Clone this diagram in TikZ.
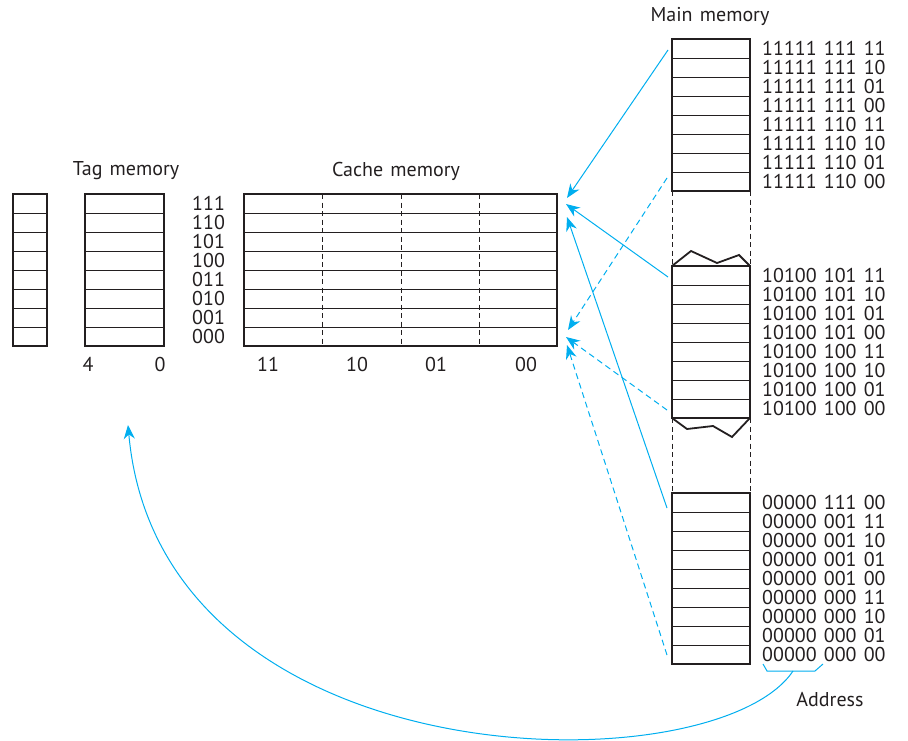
\documentclass[tikz,border=0pt]{standalone}
\usepackage{fontspec}
\setmainfont{PT Sans}
\usetikzlibrary{arrows.meta,calc}
\definecolor{linkblue}{HTML}{00AEEF}
\definecolor{ink}{HTML}{231F20}
\newcommand\lblfont{\fontsize{20}{20}\selectfont\setlength{\spaceskip}{0.36em}}

\tikzset{
  block/.style={draw=ink, line width=1.8pt, inner sep=0pt, outer sep=0pt, anchor=north west},
  rowline/.style={draw=ink, line width=0.9pt},
  guide/.style={draw=ink, line width=0.8pt, dash pattern=on 5pt off 3.5pt},
  lbl/.style={inner sep=0pt, text=ink, font=\lblfont},
  link/.style={draw=linkblue, line width=1pt, -{Stealth[length=14pt, width=11pt]}},
  dlink/.style={link, dash pattern=on 6pt off 4pt}
}

\begin{document}
\begin{tikzpicture}[x=1pt, y=-1pt]
\useasboundingbox (0,0) rectangle (908,741);

% left side: valid bits, tags and cache lines
\node[block, minimum width=34pt, minimum height=152pt] (valid) at (13,194) {};
\node[block, minimum width=79pt, minimum height=152pt] (tag) at (85,194) {};
\node[block, minimum width=313pt, minimum height=152pt] (cache) at (244,194) {};
\foreach \k in {1,...,7} {
  \draw[rowline] ($(valid.north west)+(0,\k*19)$) -- ($(valid.north east)+(0,\k*19)$);
  \draw[rowline] ($(tag.north west)+(0,\k*19)$) -- ($(tag.north east)+(0,\k*19)$);
  \draw[rowline] ($(cache.north west)+(0,\k*19)$) -- ($(cache.north east)+(0,\k*19)$);
}
\foreach \x in {78,157,235}
  \draw[guide] ($(cache.north west)+(\x,0)$) -- ($(cache.south west)+(\x,0)$);

\node[lbl] (tagtitle) at (126,171) {Tag memory};
\node[lbl] (cachetitle) at (396,171) {Cache memory};
\foreach \t [count=\i] in {111,110,101,100,011,010,001,000}
  \node[lbl, anchor=west] (set\i) at (192,184.5+19*\i) {\t};
\node[lbl] (bitfour) at (88,364) {4};
\node[lbl] (bitzero) at (160,364) {0};
\foreach \t/\x [count=\i] in {11/268,10/357,01/436,00/526}
  \node[lbl] (word\i) at (\x,364) {\t};

% main memory
\node[lbl] (maintitle) at (710,16) {Main memory};
\node[block, minimum width=78pt, minimum height=152pt] (mmtop) at (672,39) {};
\node[block, minimum width=78pt, minimum height=152pt] (mmmid) at (672,266) {};
\node[block, minimum width=78pt, minimum height=171pt] (mmbot) at (672,493) {};
\foreach \k in {1,...,7} {
  \draw[rowline] ($(mmtop.north west)+(0,\k*19)$) -- ($(mmtop.north east)+(0,\k*19)$);
  \draw[rowline] ($(mmmid.north west)+(0,\k*19)$) -- ($(mmmid.north east)+(0,\k*19)$);
}
\foreach \k in {1,...,8}
  \draw[rowline] ($(mmbot.north west)+(0,\k*19)$) -- ($(mmbot.north east)+(0,\k*19)$);
\draw[guide] (mmtop.south west) -- (mmmid.north west);
\draw[guide] (mmtop.south east) -- (mmmid.north east);
\draw[guide] (mmmid.south west) -- (mmbot.north west);
\draw[guide] (mmmid.south east) -- (mmbot.north east);
% torn edges
\draw[draw=ink, line width=1.8pt, line join=miter]
  (mmmid.north west) -- (691,251) -- (717,263) -- (739,255) -- (mmmid.north east);
\draw[draw=ink, line width=1.8pt, line join=miter]
  (mmmid.south west) -- (687,429) -- (713,426) -- (732,437) -- (mmmid.south east);

\foreach \t [count=\i] in {11111 111 11,11111 111 10,11111 111 01,11111 111 00,
    11111 110 11,11111 110 10,11111 110 01,11111 110 00}
  \node[lbl, anchor=west] (hi\i) at (762,29.5+19*\i) {\t};
\foreach \t [count=\i] in {10100 101 11,10100 101 10,10100 101 01,10100 101 00,
    10100 100 11,10100 100 10,10100 100 01,10100 100 00}
  \node[lbl, anchor=west] (mid\i) at (762,256.5+19*\i) {\t};
\foreach \t [count=\i] in {00000 111 00,00000 001 11,00000 001 10,00000 001 01,
    00000 001 00,00000 000 11,00000 000 10,00000 000 01,00000 000 00}
  \node[lbl, anchor=west] (lo\i) at (762,483.5+19*\i) {\t};

% address fields
\coordinate (addr) at (793,671);
\draw[draw=linkblue, line width=1pt] (763,664) -- (767,671) -- (815,671) -- (823,664);
\node[lbl] (addrlabel) at (830,700) {Address};

% mapping arrows
\coordinate (fromtop) at (668,50);
\coordinate (frommid) at (668,277);
\coordinate (frombot) at (667,508);
\coordinate (fromtopend) at (667,178);
\coordinate (frommidend) at (667,410);
\coordinate (frombotend) at (667,655);
\coordinate (hitA) at (567,198);
\coordinate (hitB) at (566,204);
\coordinate (hitC) at (567,217);
\coordinate (hitD) at (568,330);
\coordinate (hitE) at (566,337);
\coordinate (hitF) at (567,345);
\coordinate (tagin) at (128,425);

\draw[link] (fromtop) -- (hitA);
\draw[link] (frommid) -- (hitB);
\draw[link] (frombot) -- (hitC);
\draw[dlink] (fromtopend) -- (hitD);
\draw[dlink] (frommidend) -- (hitE);
\draw[dlink] (frombotend) -- (hitF);
\draw[link] (addr) .. controls (715,788) and (160,784) .. (tagin);

\end{tikzpicture}
\end{document}
